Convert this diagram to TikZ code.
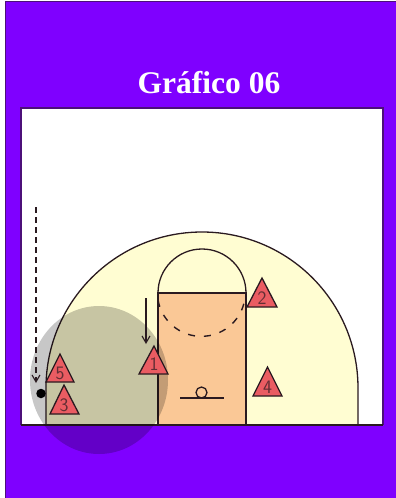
\documentclass[tikz,border=0pt]{standalone}
\usepackage{fontspec}
\setmainfont{Liberation Serif}
\usetikzlibrary{arrows.meta}
\definecolor{bgpurple}{HTML}{7F00FF}
\definecolor{courtyellow}{HTML}{FFFDD2}
\definecolor{keyorange}{HTML}{FAC896}
\definecolor{trired}{HTML}{EA5C62}
\definecolor{ln}{HTML}{2A1A20}
\tikzset{
  x=1pt,y=-1pt,
  court/.style={draw=ln,line width=1.3pt},
  player/.style={draw=ln,fill=trired,line width=1.3pt,line join=miter},
  num/.style={font=\fontsize{19}{19}\selectfont\sffamily,text=ln!70!trired,inner sep=0pt},
  move/.style={draw=ln,line width=1.1pt,-{Straight Barb[length=7pt,width=8pt]}},
}
\begin{document}
\begin{tikzpicture}
\useasboundingbox (0,0) rectangle (396,498);
\fill[white] (0,0) rectangle (396,498);
\fill[bgpurple] (5,1) rectangle (396,498);
\draw[ln!60!bgpurple,line width=1pt] (396,1) -- (5,1) -- (5,498) -- (396,498);
\fill[white] (21,108) rectangle (383,425);
\draw[ln!60!bgpurple,line width=1.2pt] (21,425) -- (21,108) -- (383,108) -- (383,425);
\node[font=\fontsize{31.5}{31.5}\selectfont\bfseries,text=white,inner sep=0pt] (title) at (209,83) {Gráfico 06};
% court
\fill[courtyellow] (46,425) -- (46,388) arc[start angle=180,end angle=360,radius=156] -- (358,425) -- cycle;
\draw[court] (46,425) -- (46,388) arc[start angle=180,end angle=360,radius=156] -- (358,425);
\fill[keyorange] (158,293) rectangle (246,425);
\draw[court] (158,425) -- (158,293) -- (246,293) -- (246,425);
\draw[court] (158,293) arc[start angle=180,end angle=360,radius=44];
\draw[court,dash pattern=on 7pt off 9pt,line width=1.4pt] (158,300) arc[start angle=170,end angle=10,radius=44];
\draw[court] (180,398) -- (224,398);
\node[draw=ln,line width=1.3pt,circle,minimum size=11pt,inner sep=0pt] (hoop) at (201.5,392.5) {};
\draw[court] (21,425) -- (383,425);
% shadow
\fill[black,opacity=0.22] (99,380) ellipse[x radius=69,y radius=74];
% players
\coordinate (a1) at (154,346);
\path[player] (a1) -- (168,374) -- (139,374) -- cycle;
\node[num] (p1) at (154,364) {1};
\coordinate (a2) at (262,278);
\path[player] (a2) -- (277,307) -- (247,307) -- cycle;
\node[num] (p2) at (262,298) {2};
\coordinate (a4) at (267.5,367);
\path[player] (a4) -- (282,396) -- (253,396) -- cycle;
\node[num] (p4) at (267.5,387) {4};
\coordinate (a5) at (60,354);
\path[player] (a5) -- (74,382) -- (46,382) -- cycle;
\node[num] (p5) at (60,373) {5};
\coordinate (a3) at (64,385);
\path[player] (a3) -- (79,414) -- (50,414) -- cycle;
\node[num] (p3) at (64,405) {3};
% ball
\node[fill=black,circle,minimum size=9.5pt,inner sep=0pt] (ball) at (41,393.5) {};
% moves
\coordinate (s1) at (146,298);
\coordinate (e1) at (146,344);
\draw[move] (s1) -- (e1);
\coordinate (s2) at (36,207);
\coordinate (e2) at (36,383);
\draw[move,dash pattern=on 6pt off 4pt] (s2) -- (e2);
\end{tikzpicture}
\end{document}
